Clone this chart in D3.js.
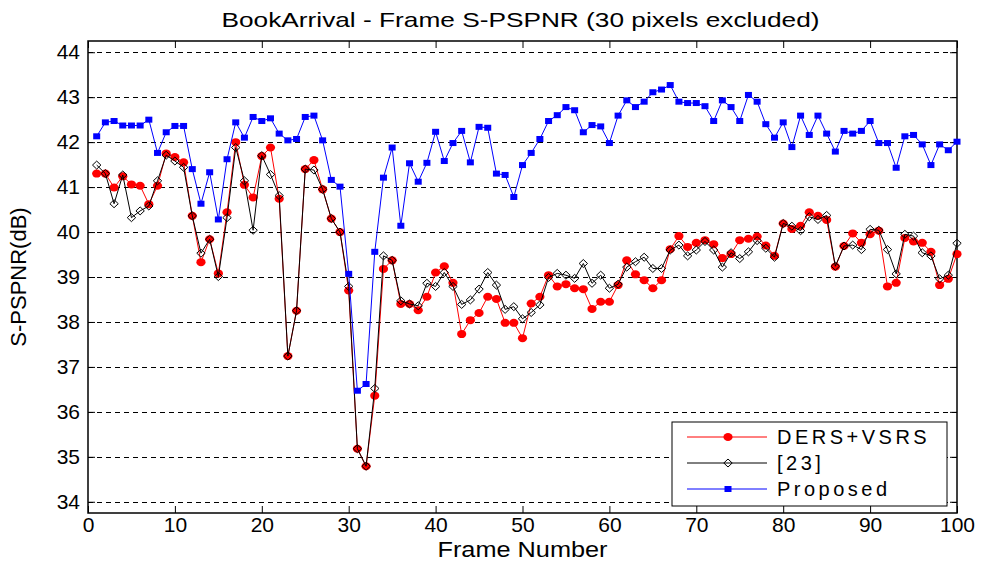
<!DOCTYPE html>
<html>
<head>
<meta charset="utf-8">
<script src="https://cdn.jsdelivr.net/npm/d3@7"></script>
<style>
  body { margin: 0; background: #fff; }
  text { font-family: Arial, "Liberation Sans", sans-serif; }
</style>
</head>
<body>
<svg id="chart" width="983" height="561"></svg>
<script>
const frames = d3.range(1, 101);

const dersVsrs = [
  41.30, 41.30, 40.99, 41.24, 41.06, 41.03, 40.62, 41.03, 41.75, 41.67,
  41.55, 40.36, 39.33, 39.84, 39.08, 40.44, 42.00, 41.05, 40.77, 41.69,
  41.88, 40.74, 37.24, 38.25, 41.40, 41.60, 40.95, 40.30, 40.00, 38.70,
  35.18, 34.79, 36.36, 39.18, 39.37, 38.40, 38.40, 38.26, 38.56, 39.10,
  39.24, 38.87, 37.73, 38.04, 38.20, 38.56, 38.51, 37.98, 37.98, 37.64,
  38.41, 38.56, 39.04, 38.79, 38.84, 38.75, 38.73, 38.29, 38.45, 38.45,
  38.82, 39.37, 39.06, 38.93, 38.75, 38.93, 39.62, 39.91, 39.67, 39.76,
  39.82, 39.73, 39.42, 39.51, 39.82, 39.85, 39.90, 39.70, 39.47, 40.19,
  40.07, 40.14, 40.44, 40.36, 40.27, 39.23, 39.69, 39.97, 39.76, 39.95,
  40.03, 38.79, 38.87, 39.87, 39.79, 39.76, 39.56, 38.82, 38.96, 39.51
];

const ref23 = [
  41.49, 41.30, 40.63, 41.27, 40.32, 40.47, 40.58, 41.14, 41.71, 41.58,
  41.44, 40.36, 39.53, 39.84, 39.01, 40.32, 41.88, 41.14, 40.04, 41.70,
  41.28, 40.81, 37.24, 38.25, 41.40, 41.38, 40.95, 40.30, 40.00, 38.79,
  35.18, 34.79, 36.52, 39.47, 39.37, 38.47, 38.40, 38.36, 38.86, 38.79,
  39.10, 38.79, 38.39, 38.49, 38.73, 39.10, 38.82, 38.28, 38.34, 38.07,
  38.21, 38.38, 38.99, 39.08, 39.04, 38.97, 39.30, 38.86, 39.04, 38.75,
  38.84, 39.22, 39.34, 39.44, 39.19, 39.19, 39.60, 39.71, 39.47, 39.60,
  39.79, 39.60, 39.22, 39.54, 39.41, 39.56, 39.81, 39.64, 39.44, 40.19,
  40.13, 40.03, 40.34, 40.28, 40.37, 39.24, 39.69, 39.71, 39.61, 40.06,
  40.04, 39.61, 39.07, 39.95, 39.91, 39.54, 39.47, 38.96, 39.04, 39.75
];

const proposed = [
  42.13, 42.44, 42.47, 42.37, 42.37, 42.37, 42.50, 41.76, 42.22, 42.36,
  42.36, 41.40, 40.63, 41.33, 40.28, 41.62, 42.44, 42.10, 42.56, 42.47,
  42.53, 42.19, 42.04, 42.07, 42.56, 42.59, 42.04, 41.16, 41.01, 39.07,
  36.47, 36.62, 39.56, 41.21, 41.88, 40.14, 41.53, 41.12, 41.54, 42.23,
  41.58, 41.98, 42.25, 41.55, 42.34, 42.32, 41.30, 41.27, 40.78, 41.49,
  41.76, 42.07, 42.47, 42.60, 42.78, 42.71, 42.22, 42.38, 42.35, 41.98,
  42.59, 42.93, 42.78, 42.90, 43.11, 43.17, 43.27, 42.90, 42.87, 42.87,
  42.80, 42.47, 42.93, 42.78, 42.47, 43.05, 42.90, 42.40, 42.10, 42.44,
  41.89, 42.59, 42.16, 42.59, 42.19, 41.79, 42.25, 42.19, 42.25, 42.47,
  41.98, 41.98, 41.43, 42.13, 42.16, 41.95, 41.49, 41.95, 41.82, 42.01
];

const xTicks = d3.range(0, 101, 10);
const yTicks = d3.range(34, 45, 1);

const SERIES = [
  { name: 'DERS+VSRS', values: dersVsrs, color: '#ff0000', marker: 'dot' },
  { name: '[23]', values: ref23, color: '#000000', marker: 'diamond' },
  { name: 'Proposed', values: proposed, color: '#0000ff', marker: 'square' },
];

const LEFT = 88, RIGHT = 957, TOP = 41, BOTTOM = 513;
const TICK_LEN = 7;

const svg = d3.select('#chart');

const x = d3.scaleLinear().domain([0, 100]).range([LEFT, RIGHT]);
const y = d3.scaleLinear().domain([33.75, 44.25]).range([BOTTOM, TOP]);

// dashed horizontal grid
svg.append('g')
  .selectAll('line')
  .data(yTicks)
  .join('line')
  .attr('x1', LEFT).attr('x2', RIGHT)
  .attr('y1', d => Math.round(y(d)) + 0.5)
  .attr('y2', d => Math.round(y(d)) + 0.5)
  .attr('stroke', '#000')
  .attr('stroke-width', 1)
  .attr('stroke-dasharray', '5,4');

// axes: ticks inward, labels outside
const xAxis = d3.axisBottom(x).tickValues(xTicks).tickSizeInner(-TICK_LEN).tickSizeOuter(0).tickPadding(4);
const yAxis = d3.axisLeft(y).tickValues(yTicks).tickSizeInner(-TICK_LEN).tickSizeOuter(0).tickPadding(8);

const styleAxis = (g) => {
  g.select('.domain').remove();
  g.selectAll('.tick line').attr('stroke', '#000');
  g.selectAll('.tick text')
    .attr('fill', '#000')
    .style('font-size', '21px');
};

svg.append('g')
  .attr('transform', `translate(0, ${BOTTOM})`)
  .call(xAxis)
  .call(styleAxis);

svg.append('g')
  .attr('transform', `translate(${LEFT}, 0)`)
  .call(yAxis)
  .call(styleAxis);

// top and right ticks
svg.append('g')
  .attr('transform', `translate(0, ${TOP})`)
  .call(d3.axisTop(x).tickValues(xTicks).tickSizeInner(-TICK_LEN).tickSizeOuter(0).tickFormat(''))
  .call(styleAxis);

svg.append('g')
  .attr('transform', `translate(${RIGHT}, 0)`)
  .call(d3.axisRight(y).tickValues(yTicks).tickSizeInner(-TICK_LEN).tickSizeOuter(0).tickFormat(''))
  .call(styleAxis);

// frame
svg.append('rect')
  .attr('x', LEFT).attr('y', TOP)
  .attr('width', RIGHT - LEFT).attr('height', BOTTOM - TOP)
  .attr('fill', 'none')
  .attr('stroke', '#000')
  .attr('stroke-width', 1.5);

const drawMarker = (sel, s) => {
  if (s.marker === 'dot') {
    sel.append('ellipse').attr('rx', 4.6).attr('ry', 4).attr('fill', s.color);
  } else if (s.marker === 'square') {
    sel.append('rect').attr('x', -3.5).attr('y', -3).attr('width', 7).attr('height', 6).attr('fill', s.color);
  } else {
    sel.append('path').attr('d', 'M0,-4 L4.2,0 L0,4 L-4.2,0 Z')
      .attr('fill', 'none').attr('stroke', s.color).attr('stroke-width', 1);
  }
};

const line = d3.line().x((d, i) => x(frames[i])).y(d => y(d));

SERIES.forEach((s) => {
  const g = svg.append('g');
  g.append('path')
    .attr('d', line(s.values))
    .attr('fill', 'none')
    .attr('stroke', s.color)
    .attr('stroke-width', 1);
  g.selectAll('g')
    .data(s.values)
    .join('g')
    .attr('transform', (d, i) => `translate(${x(frames[i])}, ${y(d)})`)
    .each(function () { drawMarker(d3.select(this), s); });
});

// legend
const legend = svg.append('g').attr('transform', 'translate(672, 422)');
legend.append('rect')
  .attr('width', 275).attr('height', 84)
  .attr('fill', '#fff').attr('stroke', '#000').attr('stroke-width', 1);

SERIES.forEach((s, i) => {
  const row = legend.append('g').attr('transform', `translate(0, ${15 + i * 26})`);
  row.append('line')
    .attr('x1', 15).attr('x2', 95)
    .attr('stroke', s.color).attr('stroke-width', 1);
  drawMarker(row.append('g').attr('transform', 'translate(56, 0)'), s);
  row.append('text')
    .attr('x', 105).attr('y', 7)
    .style('font-size', '20px')
    .style('letter-spacing', '3.5px')
    .text(s.name);
});

// titles (the source figure's lettering is a little wider than Arial)
svg.append('text')
  .attr('transform', `translate(${(LEFT + RIGHT) / 2 - 2}, 27) scale(1.25, 1)`)
  .attr('text-anchor', 'middle')
  .style('font-size', '21px')
  .text('BookArrival - Frame S-PSPNR (30 pixels excluded)');

svg.append('text')
  .attr('transform', `translate(${(LEFT + RIGHT) / 2}, 557) scale(1.15, 1)`)
  .attr('text-anchor', 'middle')
  .style('font-size', '22px')
  .text('Frame Number');

svg.append('text')
  .attr('transform', `translate(26, ${(TOP + BOTTOM) / 2}) rotate(-90)`)
  .attr('text-anchor', 'middle')
  .style('font-size', '22px')
  .text('S-PSPNR(dB)');
</script>
</body>
</html>
